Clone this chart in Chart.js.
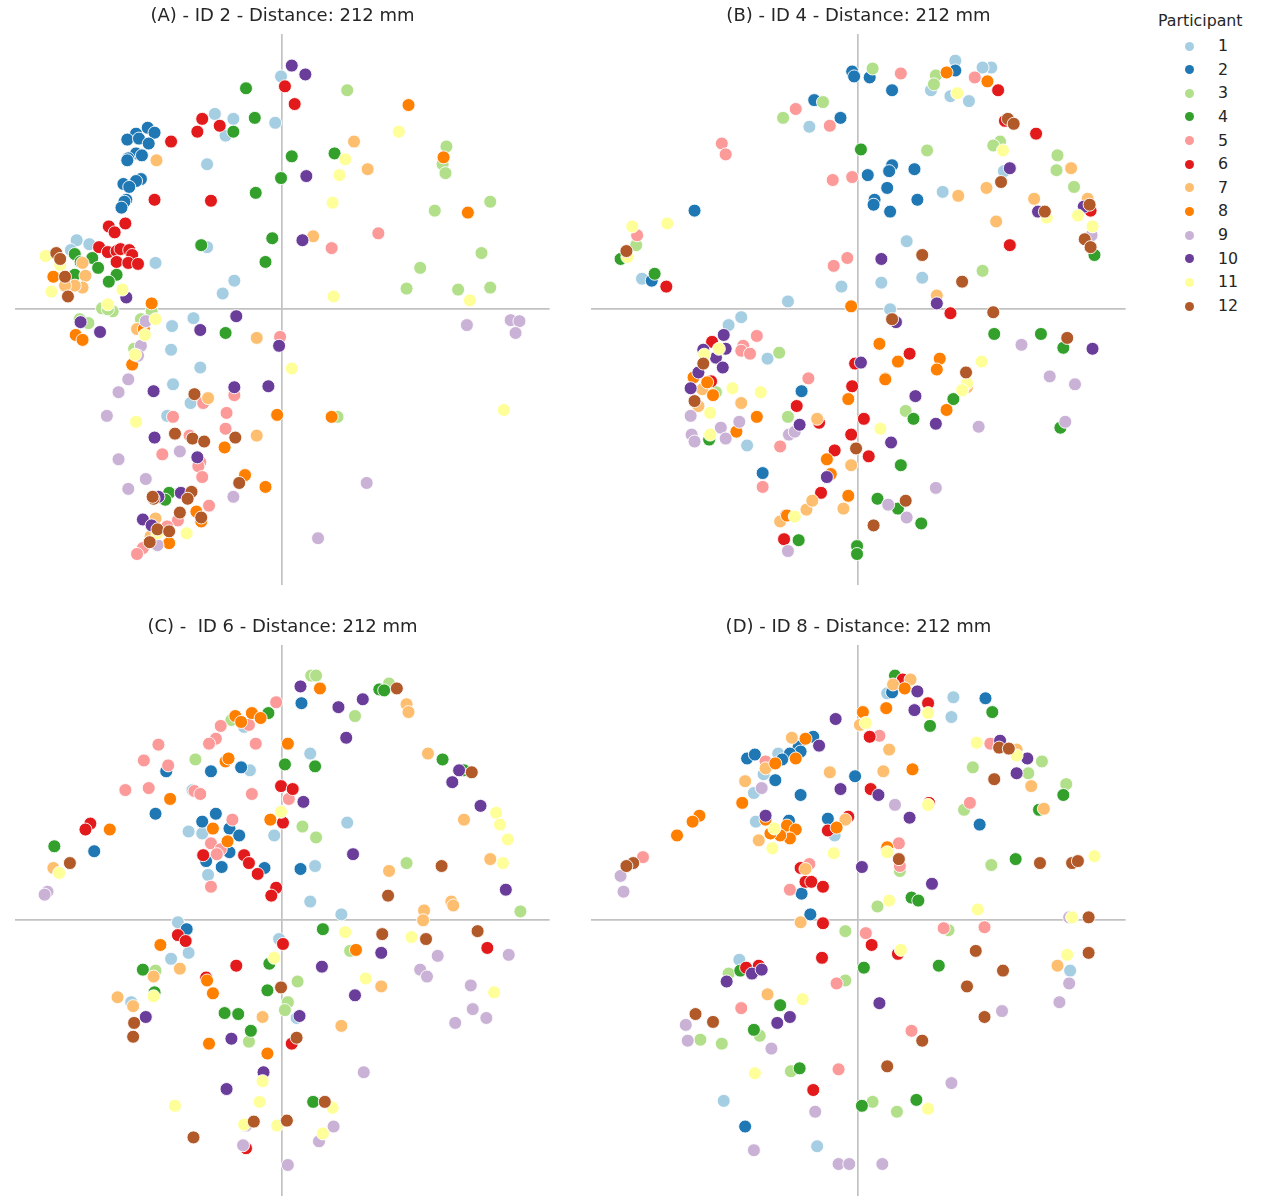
<!DOCTYPE html>
<html><head><meta charset="utf-8">
<script src="https://cdn.jsdelivr.net/npm/chart.js@4/dist/chart.umd.min.js"></script>
<style>
html,body{margin:0;padding:0;background:#fff;width:1266px;height:1201px;overflow:hidden}
canvas{position:absolute}
.lg{position:absolute;font-family:"DejaVu Sans";color:#262626;font-size:15.8px;line-height:20px;white-space:nowrap}
.dot{position:absolute;width:9px;height:9px;border-radius:50%}
</style></head><body>
<script>
const participants=['1','2','3','4','5','6','7','8','9','10','11','12'];
const colours=['#a6cee3','#1f78b4','#b2df8a','#33a02c','#fb9a99','#e31a1c','#fdbf6f','#ff7f00','#cab2d6','#6a3d9a','#ffff99','#b15928'];
const titles=['(A) - ID 2 - Distance: 212 mm','(B) - ID 4 - Distance: 212 mm','(C) -  ID 6 - Distance: 212 mm','(D) - ID 8 - Distance: 212 mm'];

const A1=[[-1,236],[-69,198],[-50,193],[-58,176],[-7,189],[-77,147],[-211,70],[-198,66],[-217,60],[-130,47],[-77,63],[-49,29],[-61,16],[-113,-17],[-91,-9],[-114,-41],[-84,-59],[-112,-76],[-94,-95],[-118,-108]];
const A2=[[-150,178],[-138,184],[-131,179],[-159,172],[-147,173],[-137,168],[-150,158],[-144,156],[-158,153],[-159,151],[-145,132],[-150,130],[-163,127],[-157,124],[-160,111],[-162,109],[-165,103]];
const A3=[[67,222],[169,165],[165,147],[168,138],[214,109],[157,100],[205,57],[142,42],[128,21],[181,20],[214,22],[-185,1],[-174,-2],[-179,0],[-208,-10],[-199,-14],[-145,-10],[-134,-2],[-152,-40],[57,-109]];
const A4=[[-37,224],[-28,194],[-50,180],[10,155],[54,158],[-1,133],[-27,118],[-83,65],[-10,72],[-17,48],[-213,56],[-207,48],[-195,52],[-189,42],[-213,35],[-170,35],[-178,28],[-58,-24],[-116,-186],[-120,-193]];
const A5=[[51,62],[99,77],[-2,-28],[-81,-95],[-49,-87],[-112,-109],[-57,-105],[-58,-121],[-95,-128],[-123,-147],[-84,-155],[-86,-159],[-82,-170],[-75,-199],[-107,-214],[-118,-220],[-143,-242],[-149,-248]];
const A6=[[3,226],[13,208],[-114,170],[-82,193],[-87,180],[-64,186],[-131,111],[-73,110],[-178,84],[-161,87],[-172,78],[-188,63],[-179,58],[-170,59],[-166,61],[-157,60],[-154,55],[-170,48],[-158,47],[-148,46]];
const A7=[[-129,151],[74,170],[88,142],[32,74],[-26,-29],[-205,47],[-202,34],[-205,22],[-213,24],[-223,24],[-149,-20],[-76,-90],[-26,-128],[-130,-212],[-135,-230]];
const A8=[[130,207],[166,154],[191,98],[-235,33],[-134,6],[-212,-26],[-205,-31],[-142,-20],[-154,-56],[-5,-107],[-59,-140],[51,-109],[-38,-168],[-17,-180],[-88,-205],[-83,-215],[-116,-237]];
const A9=[[190,-16],[235,-11],[244,-12],[240,-24],[-140,-12],[-145,-37],[-148,-47],[-158,-71],[-168,-84],[-180,-108],[-168,-152],[-105,-144],[-140,-172],[-158,-182],[-50,-190],[87,-176],[37,-232],[-128,-239]];
const A10=[[10,247],[24,238],[25,135],[21,70],[-160,12],[-207,-13],[-187,-23],[-47,-7],[-84,-21],[-3,-37],[-132,-83],[-49,-79],[-14,-78],[-131,-130],[-87,-150],[-104,-186],[-127,-190],[-143,-213],[-134,-219]];
const A11=[[120,180],[65,152],[59,136],[52,108],[53,13],[193,9],[228,-102],[10,-60],[-243,54],[-228,45],[-237,18],[-164,20],[-179,5],[-130,-10],[-141,-26],[-151,-46],[-150,-114],[-98,-227],[-128,-227]];
const A12=[[-232,57],[-228,51],[-223,33],[-220,13],[-90,-86],[-110,-126],[-92,-131],[-80,-134],[-48,-130],[-44,-176],[-93,-185],[-97,-192],[-132,-192],[-133,-190],[-105,-206],[-83,-211],[-128,-223],[-116,-225],[-136,-236]];

const B1=[[100,252],[137,245],[128,245],[75,222],[95,216],[114,211],[-50,185],[150,140],[87,119],[50,69],[66,32],[24,27],[-17,23],[-72,8],[33,0],[-120,-8],[-133,-16],[-93,-50],[-114,-138],[-222,31]];
const B2=[[-6,241],[-4,236],[12,235],[100,242],[35,222],[-45,212],[-18,194],[35,146],[58,142],[32,140],[10,136],[30,123],[17,111],[16,106],[61,111],[33,99],[-168,100],[-212,29],[-58,-83],[-98,-166]];
const B3=[[15,244],[80,237],[78,228],[-36,210],[-77,194],[146,170],[139,166],[71,161],[205,156],[204,141],[222,124],[-228,65],[128,39],[-81,-44],[-146,-84],[-72,-109],[49,-103]];
const B4=[[3,162],[243,55],[-244,51],[-209,36],[140,-25],[188,-25],[211,-39],[57,-111],[98,-91],[208,-120],[44,-158],[20,-192],[41,-202],[65,-217],[-1,-240],[-1,-248],[-61,-234],[-153,-132]];
const B5=[[44,239],[120,235],[-64,203],[-29,186],[-26,131],[-6,134],[-140,168],[-136,157],[-227,75],[-25,44],[-11,52],[-104,-27],[-118,-37],[-120,-42],[-111,-45],[-51,-70],[-80,-139],[-98,-180]];
const B6=[[144,222],[151,191],[183,178],[239,100],[156,65],[-197,23],[95,-4],[-150,-33],[-151,-73],[-6,-78],[-3,-55],[-63,-98],[-40,-115],[-7,-127],[-24,-143],[53,-45],[6,-111],[11,-149],[-38,-186],[-76,-233],[-74,-209]];
const B7=[[132,123],[103,115],[181,112],[142,89],[219,143],[236,112],[81,14],[-160,-81],[-164,-98],[-120,-95],[-42,-111],[-7,-158],[-53,-203],[-47,-194],[-80,-215],[-15,-202],[112,-79],[28,-70]];
const B8=[[91,240],[133,231],[-7,3],[-169,-69],[-155,-74],[-149,-87],[-104,-109],[-125,-124],[-10,-91],[-32,-152],[-28,-167],[22,-35],[84,-50],[81,-61],[41,-53],[28,-71],[91,-102],[-10,-189],[-73,-209]];
const B9=[[240,75],[168,-36],[197,-68],[223,-76],[213,-114],[124,-119],[80,-181],[31,-198],[50,-211],[-72,-245],[-172,-108],[-171,-127],[-168,-134],[-141,-120],[-136,-131],[-122,-114],[-71,-127],[-65,-124]];
const B10=[[156,143],[185,99],[232,104],[24,51],[81,6],[39,-13],[241,-40],[59,-88],[80,-116],[34,-135],[3,-54],[-138,-26],[-159,-41],[-136,-40],[-146,-49],[-139,-59],[-164,-64],[-172,-80],[-60,-117],[-32,-170]];
const B11=[[102,219],[149,161],[194,93],[226,95],[241,84],[-232,84],[-196,87],[-237,53],[-158,-46],[-143,-40],[-129,-80],[-100,-84],[-152,-105],[-152,-127],[127,-53],[112,-75],[107,-82],[23,-121],[-65,-210]];
const B12=[[154,193],[160,188],[147,129],[192,99],[238,106],[233,71],[239,63],[66,55],[-238,59],[107,28],[139,-3],[35,-10],[215,-29],[111,-64],[-159,-55],[-168,-93],[-2,-141],[16,-219],[49,-194]];

const C1=[[29,169],[-33,152],[-96,90],[-82,88],[-8,86],[34,55],[-76,46],[29,19],[67,99],[61,6],[-107,-2],[-96,-33],[-114,-39],[-155,-83],[-3,-19],[15,-99],[-92,132],[-39,196]];
const C2=[[20,220],[-119,151],[-73,151],[-42,155],[-130,108],[-68,108],[-82,100],[-54,93],[-44,86],[-54,69],[-78,60],[-62,54],[-18,53],[19,52],[-193,70],[-98,-9]];
const C3=[[30,248],[35,248],[110,240],[75,207],[-89,163],[21,95],[35,84],[-52,203],[128,58],[245,9],[70,-31],[-130,-51],[-34,-123],[16,-62],[6,-83],[3,-91],[-131,-73],[-110,-188]];
const C4=[[100,234],[105,233],[-14,210],[3,158],[34,156],[165,163],[187,152],[-234,75],[42,-9],[-13,-44],[-143,-50],[-131,-73],[-15,-71],[-59,-94],[-45,-95],[-32,-112],[32,-184]];
const C5=[[-6,221],[-34,198],[-63,197],[-68,184],[-75,179],[-27,179],[-127,178],[-142,162],[-117,157],[-161,132],[-137,134],[-90,131],[-84,128],[-31,128],[7,123],[-51,102],[-73,78],[-63,72],[-67,67],[-73,34]];
const C6=[[-1,136],[11,133],[1,99],[-81,66],[-39,66],[-34,58],[-25,47],[-6,33],[-11,25],[-197,98],[-202,92],[-107,-15],[-99,-21],[-47,-46],[-78,-58],[211,-28],[1,-24],[10,-125],[-37,-231]];
const C7=[[128,219],[130,211],[150,169],[187,102],[214,62],[110,50],[146,10],[145,0],[174,19],[176,15],[-235,53],[102,-67],[61,-107],[-20,-98],[-169,-78],[-153,-87],[-132,-57],[-105,-49]];
const C8=[[39,235],[-48,207],[-42,201],[-31,210],[-22,205],[6,179],[-58,161],[-55,164],[-115,123],[-71,93],[-56,80],[-12,102],[-177,92],[-125,-25],[-77,-61],[-71,-74],[76,-30],[-75,-125],[-15,-135]];
const C9=[[-241,29],[-244,26],[160,-36],[142,-50],[149,-57],[194,-66],[233,-35],[210,-99],[196,-90],[178,-104],[84,-154],[53,-209],[38,-224],[6,-248],[-40,-228],[-37,-208]];
const C10=[[19,237],[58,216],[22,120],[83,224],[66,185],[175,140],[182,152],[204,116],[230,31],[73,67],[102,-33],[41,-47],[75,-76],[18,-97],[-140,-98],[-52,-120],[-19,-154],[-57,-171]];
const C11=[[-1,110],[220,109],[224,97],[232,82],[227,58],[65,-12],[133,-17],[-8,-38],[-132,-77],[86,-59],[218,-73],[-20,-163],[-23,-184],[52,-190],[-110,-188],[-39,-207],[-5,-208],[42,-216],[-229,48]];
const C12=[[118,235],[195,150],[164,55],[109,25],[-218,58],[201,-11],[103,-14],[148,-19],[-1,-68],[15,-119],[-152,-104],[-153,-118],[44,-184],[5,-203],[-29,-204],[-91,-220]];

const D1=[[98,226],[96,206],[30,230],[-82,169],[-97,148],[-107,129],[-105,100],[-24,86],[218,-51],[-122,-40],[-138,-183],[-42,-229]];
const D2=[[35,231],[-46,186],[-61,176],[-59,171],[-70,169],[-78,163],[-114,164],[-106,168],[-85,142],[-59,127],[-3,146],[-71,101],[-31,103],[131,225],[125,97],[-49,6],[-58,27],[-116,-209],[218,3]];
const D3=[[109,112],[118,155],[175,149],[214,138],[20,14],[137,56],[93,-10],[-13,-11],[-13,-61],[-133,-54],[-162,-121],[-140,-125],[-101,-117],[-69,-153],[15,-184],[40,-194],[189,161],[43,50]];
const D4=[[38,248],[74,197],[138,211],[211,127],[186,112],[162,62],[55,23],[62,20],[83,-46],[6,-48],[-121,-51],[-80,-86],[-60,-150],[-107,-111],[4,-188],[60,-182]];
const D5=[[-95,161],[22,187],[42,78],[43,55],[-50,57],[-70,31],[136,179],[146,178],[115,119],[-221,64],[73,119],[55,-112],[130,-7],[88,-8],[8,-13],[-120,-89],[-20,-151],[-22,-64]];
const D6=[[46,244],[72,220],[12,186],[13,133],[-10,105],[73,119],[-31,91],[-79,87],[-59,53],[-54,39],[-48,39],[-36,34],[30,72],[-36,-3],[41,-34],[14,-25],[-37,-38],[-102,-46],[-115,-48],[-46,-172]];
const D7=[[54,244],[36,239],[2,198],[-68,185],[-95,154],[-116,141],[32,173],[-29,150],[26,151],[-13,102],[-102,81],[-54,52],[-59,-2],[122,180],[163,173],[178,136],[191,113],[205,-46],[-93,-75]];
const D8=[[48,235],[5,211],[29,215],[-54,184],[-85,159],[-64,164],[-119,119],[56,153],[-22,94],[-73,96],[-64,92],[-70,83],[-80,86],[-90,88],[-95,102],[30,74],[-163,106],[-170,100],[-186,86]];
const D9=[[-99,134],[38,117],[-244,45],[-241,29],[217,-64],[207,-83],[148,-92],[-177,-106],[-175,-122],[-89,-130],[96,-165],[-44,-194],[-107,-233],[-20,-247],[-9,-247],[25,-247],[217,3]];
const D10=[[61,232],[58,213],[-23,204],[-40,177],[-18,133],[21,127],[53,104],[-95,106],[4,54],[76,37],[146,182],[174,164],[163,149],[22,-84],[-135,-62],[-109,-54],[-99,-50],[-83,-104],[-70,-98]];
const D11=[[72,210],[8,200],[72,117],[-86,93],[-88,73],[-25,68],[30,69],[122,180],[163,167],[32,20],[123,11],[243,65],[220,3],[44,-30],[215,-35],[-57,-80],[-106,-155],[72,-191]];
const D12=[[42,62],[145,175],[155,174],[140,143],[187,58],[220,58],[226,60],[237,3],[121,-31],[237,-33],[149,-51],[112,-67],[130,-98],[-231,58],[-238,55],[-149,-103],[-167,-95],[66,-122],[30,-148]];

const panelData=[
 [A1,A2,A3,A4,A5,A6,A7,A8,A9,A10,A11,A12],
 [B1,B2,B3,B4,B5,B6,B7,B8,B9,B10,B11,B12],
 [C1,C2,C3,C4,C5,C6,C7,C8,C9,C10,C11,C12],
 [D1,D2,D3,D4,D5,D6,D7,D8,D9,D10,D11,D12]
];
const placement=[[8,0],[584,0],[8,611],[584,611]];

const zeroAxis=(min,max)=>({
  type:'linear',min,max,
  afterBuildTicks:s=>{s.ticks=[{value:0}];},
  ticks:{display:false},
  border:{display:false},
  grid:{color:'#c2c2c2',lineWidth:1.7,drawTicks:false}
});

panelData.forEach((series,k)=>{
  const c=document.createElement('canvas');
  c.width=549;c.height=592;
  c.style.left=placement[k][0]+'px';c.style.top=placement[k][1]+'px';
  c.style.width='549px';c.style.height='592px';
  document.body.appendChild(c);
  new Chart(c,{
    type:'scatter',
    data:{datasets:series.map((pts,i)=>({
      label:participants[i],
      data:pts.map(p=>({x:p[0],y:p[1]})),
      backgroundColor:colours[i],
      borderColor:'#ffffff',
      borderWidth:0.9,
      pointRadius:6.5,
      order:12-i,
      clip:false
    }))},
    options:{
      responsive:false,animation:false,
      layout:{padding:0},
      plugins:{
        legend:{display:false},tooltip:{enabled:false},
        title:{display:true,text:titles[k],color:'#262626',
          font:{family:'"DejaVu Sans"',size:18,weight:'normal',lineHeight:1.2},
          padding:{top:6,bottom:6.4}}
      },
      scales:{x:zeroAxis(-274,275),y:zeroAxis(-279,279)}
    }
  });
});

const addText=(t,l,top)=>{const d=document.createElement('div');d.className='lg';d.textContent=t;d.style.left=l+'px';d.style.top=top+'px';document.body.appendChild(d);};
addText('Participant',1158,11);
participants.forEach((p,i)=>{
  const cy=46+i*23.64;
  const d=document.createElement('div');d.className='dot';d.style.background=colours[i];
  d.style.left='1185px';d.style.top=(cy-4.5)+'px';document.body.appendChild(d);
  addText(p,1218,cy-10);
});
</script>
</body></html>
